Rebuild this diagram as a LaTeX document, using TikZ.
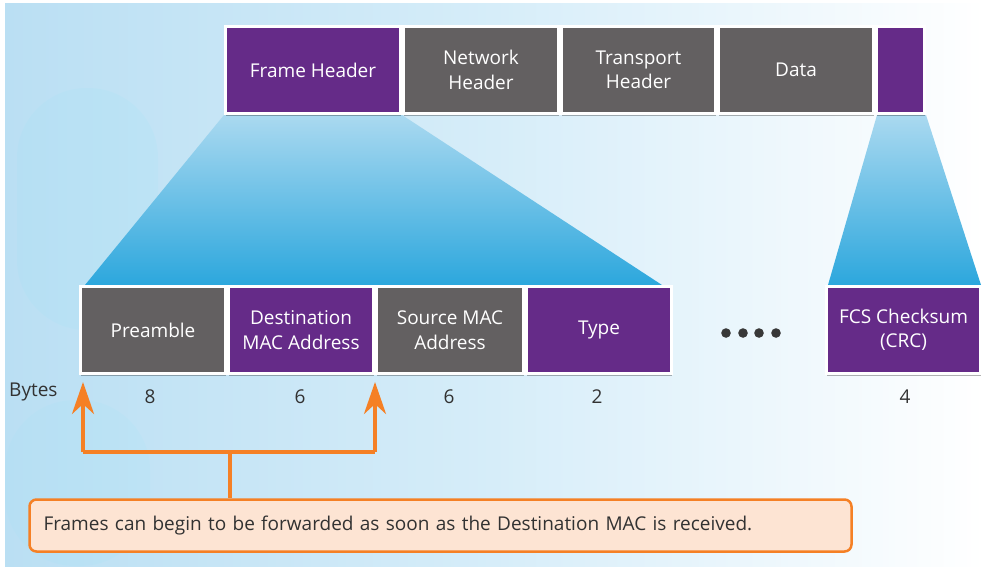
\documentclass[tikz,border=0pt]{standalone}
\usepackage{fontspec}
\setmainfont{Open Sans}
\usetikzlibrary{shadows,arrows.meta}
\definecolor{cpurple}{RGB}{101,43,136}
\definecolor{cgrey}{RGB}{99,96,97}
\definecolor{corange}{RGB}{245,128,37}
\definecolor{cpeach}{RGB}{253,228,211}
\definecolor{bgblue}{RGB}{186,223,243}
\definecolor{bgmid}{RGB}{214,237,249}
\definecolor{funtop}{RGB}{170,217,240}
\definecolor{funbot}{RGB}{44,167,221}
\definecolor{ctext}{RGB}{50,50,50}
\begin{document}
\begin{tikzpicture}[x=1pt,y=-1pt,
  box/.style={draw=white, line width=2.5pt, text=white, align=center,
    font=\fontsize{19}{24.5}\selectfont, inner sep=0pt, minimum height=87pt,
    drop shadow={shadow xshift=0.5pt, shadow yshift=-2.5pt, fill=black, opacity=0.3}},
  pbox/.style={box, fill=cpurple},
  gbox/.style={box, fill=cgrey},
  lbl/.style={text=ctext, font=\fontsize{19}{22}\selectfont, inner sep=0pt},
  funnel/.style={top color=funtop, bottom color=funbot, draw=none},
  obr/.style={draw=corange, line width=4pt},
  otip/.style={-{Stealth[length=32pt,width=22pt,inset=10pt]}},
  callout/.style={draw=corange, line width=2.5pt, fill=cpeach, rounded corners=7pt,
    minimum width=822pt, minimum height=52pt, text width=794pt, align=left,
    inner xsep=14pt, text=ctext, font=\fontsize{19}{22}\selectfont}
]
\useasboundingbox (0,0) rectangle (984,566);
% background
\fill[white] (0,0) rectangle (984,566);
\shade[left color=bgblue, right color=white, middle color=bgmid] (5,3) rectangle (984,566);
\fill[bgblue!80!cyan, opacity=0.12, rounded corners=70pt] (17,88) rectangle (158,330);
\fill[bgblue!80!cyan, opacity=0.10, rounded corners=70pt] (5,400) rectangle (150,566);

% funnels
\shade[funnel] (224,115) -- (402,115) -- (662,285) -- (85,285) -- cycle;
\shade[funnel] (877,115) -- (926,115) -- (981,285) -- (828,285) -- cycle;

% top row
\node[pbox, minimum width=175pt] (fh) at (313,70) {Frame Header};
\node[gbox, minimum width=155pt] (nh) at (481,70) {Network\\Header};
\node[gbox, minimum width=154pt] (th) at (638.5,70) {Transport\\Header};
\node[gbox, minimum width=155pt] (dt) at (796,70) {Data};
\node[pbox, minimum width=48pt] (ft) at (900.5,70) {};

% bottom row
\node[gbox, minimum width=145pt] (pre) at (153,330) {Preamble};
\node[pbox, minimum width=145pt] (dst) at (301,330) {Destination\\MAC Address};
\node[gbox, minimum width=147pt] (src) at (450,330) {Source MAC\\Address};
\node[pbox, minimum width=145pt] (typ) at (599,330) {Type};
\node[pbox, minimum width=154pt] (fcs) at (903.5,330) {FCS Checksum\\(CRC)};

% dots
\foreach \i/\xx in {1/726,2/743,3/759,4/776}
  \fill[black!78] (\xx,333) circle (4.8pt);

% byte labels
\node[lbl, anchor=west] (bytes) at (9,392) {Bytes};
\node[lbl] (b1) at (150,397) {8};
\node[lbl] (b2) at (300,397) {6};
\node[lbl] (b3) at (449,397) {6};
\node[lbl] (b4) at (597,397) {2};
\node[lbl] (b5) at (905,397) {4};

% callout
\node[callout] (note) at (440.5,525.5) {Frames can begin to be forwarded as soon as the Destination MAC is received.};

% bracket
\coordinate (tl) at (83,382);
\coordinate (tr) at (375,382);
\coordinate (jl) at (83,452);
\coordinate (jr) at (375,452);
\coordinate (jm) at (230,452);
\draw[obr] (jm) -- (jm |- note.north);
\draw[obr] (jl) -- (jr);
\draw[obr, otip] (jl) -- (tl);
\draw[obr, otip] (jr) -- (tr);
\end{tikzpicture}
\end{document}
